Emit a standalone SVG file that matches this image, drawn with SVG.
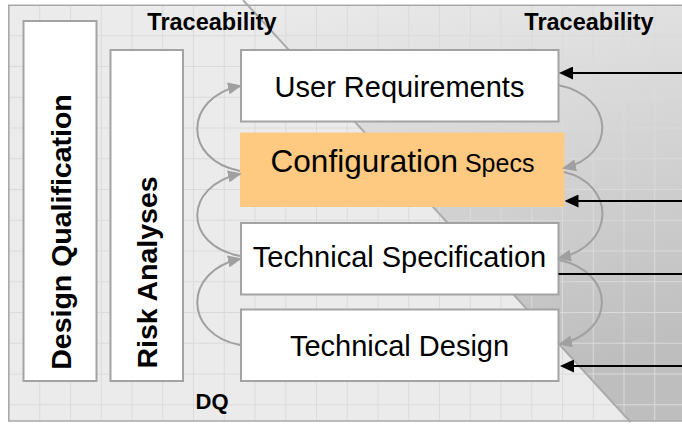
<svg xmlns="http://www.w3.org/2000/svg" width="682" height="425" viewBox="0 0 682 425">
  <style>
    .box { fill: #ffffff; stroke: #a3a3a3; stroke-width: 2; }
    .cfg { fill: #fec981; stroke: none; }
    .lbl { font-family: "Liberation Sans", Arial, sans-serif; fill: #000000; }
    .bold { font-weight: bold; }
    .curve { fill: none; stroke: #a0a0a0; stroke-width: 2; }
    .trace { fill: none; stroke: #000000; stroke-width: 2; }
  </style>
  <defs>
    <pattern id="grid" patternUnits="userSpaceOnUse" x="8.5" y="4.5" width="30.75" height="30.75">
      <path d="M0,0.5 H30.75 M0.5,0 V30.75" fill="none" stroke="#dadada" stroke-width="1"/>
    </pattern>
    <linearGradient id="shade" x1="0" y1="0" x2="0.25" y2="1">
      <stop offset="0" stop-color="#ebebeb"/>
      <stop offset="1" stop-color="#bebebe"/>
    </linearGradient>
    <marker id="headBlack" viewBox="0 0 14 13" refX="4" refY="6.5" markerWidth="14" markerHeight="13" markerUnits="userSpaceOnUse" orient="auto">
      <path d="M0,0 L14,6.5 L0,13 z" fill="#000000"/>
    </marker>
    <marker id="headGray" viewBox="0 0 14 12" refX="12" refY="6" markerWidth="14" markerHeight="12" markerUnits="userSpaceOnUse" orient="auto">
      <path d="M0,0 L14,6 L0,12 z" fill="#a0a0a0"/>
    </marker>
  </defs>

  <rect x="0" y="0" width="682" height="425" fill="#ffffff"/>

  <g id="background">
    <rect x="8.75" y="5.25" width="680" height="415.75" fill="#ebebeb"/>
    <polygon points="247.6,5 682,5 682,421 629,421" fill="url(#shade)"/>
    <rect x="8.75" y="5.25" width="680" height="415.75" fill="url(#grid)"/>
    <line x1="243" y1="0" x2="630.5" y2="422" stroke="#ababab" stroke-width="2"/>
    <rect x="8.75" y="5.25" width="680" height="415.75" fill="none" stroke="#a8a8a8" stroke-width="1.5"/>
  </g>

  <g id="node-design-qualification">
    <rect class="box" x="23.5" y="21" width="73" height="360"/>
    <text class="lbl bold" font-size="28.5" text-anchor="middle" transform="translate(71,232) rotate(-90)">Design Qualification</text>
  </g>

  <g id="node-risk-analyses">
    <rect class="box" x="110.5" y="50" width="72.5" height="331"/>
    <text class="lbl bold" font-size="28.5" text-anchor="middle" transform="translate(157,272.5) rotate(-90)">Risk Analyses</text>
  </g>

  <g id="node-user-requirements">
    <rect class="box" x="241" y="50" width="317.5" height="71.5"/>
    <text class="lbl" font-size="29" x="399.5" y="96.5" text-anchor="middle">User Requirements</text>
  </g>

  <g id="node-configuration-specs">
    <rect class="cfg" x="240" y="132.5" width="324.5" height="74.5"/>
    <text class="lbl" x="402.5" y="172" text-anchor="middle"><tspan font-size="31.5">Configuration</tspan><tspan font-size="25"> Specs</tspan></text>
  </g>

  <g id="node-technical-specification">
    <rect class="box" x="241" y="223" width="317.5" height="71.5"/>
    <text class="lbl" font-size="29" x="399.5" y="267" text-anchor="middle">Technical Specification</text>
  </g>

  <g id="node-technical-design">
    <rect class="box" x="241" y="309.5" width="317.5" height="71.5"/>
    <text class="lbl" font-size="29" x="399.5" y="355.5" text-anchor="middle">Technical Design</text>
  </g>

  <g id="connectors">
    <path class="curve" d="M240,171 C183,160 183,98 240,86" marker-end="url(#headGray)"/>
    <path class="curve" d="M240,256 C183,245 183,186 240,174" marker-end="url(#headGray)"/>
    <path class="curve" d="M240,345 C183,334 183,271 240,259" marker-end="url(#headGray)"/>
    <path class="curve" d="M558,85 C616,97 616,156 564,168" marker-end="url(#headGray)"/>
    <path class="curve" d="M564,172 C616,184 616,246 559,258" marker-end="url(#headGray)"/>
    <path class="curve" d="M559,260 C616,272 616,332 560,344" marker-end="url(#headGray)"/>
    <line class="trace" x1="684" y1="73" x2="569" y2="73" marker-end="url(#headBlack)"/>
    <line class="trace" x1="684" y1="201" x2="574.5" y2="201" marker-end="url(#headBlack)"/>
    <line class="trace" x1="684" y1="274" x2="558.5" y2="274"/>
    <line class="trace" x1="684" y1="366" x2="570" y2="366" marker-end="url(#headBlack)"/>
  </g>

  <g id="labels">
    <text class="lbl bold" font-size="23.5" x="212" y="30" text-anchor="middle">Traceability</text>
    <text class="lbl bold" font-size="23.5" x="589" y="30" text-anchor="middle">Traceability</text>
    <text class="lbl bold" font-size="22" x="212" y="409" text-anchor="middle">DQ</text>
  </g>
</svg>
